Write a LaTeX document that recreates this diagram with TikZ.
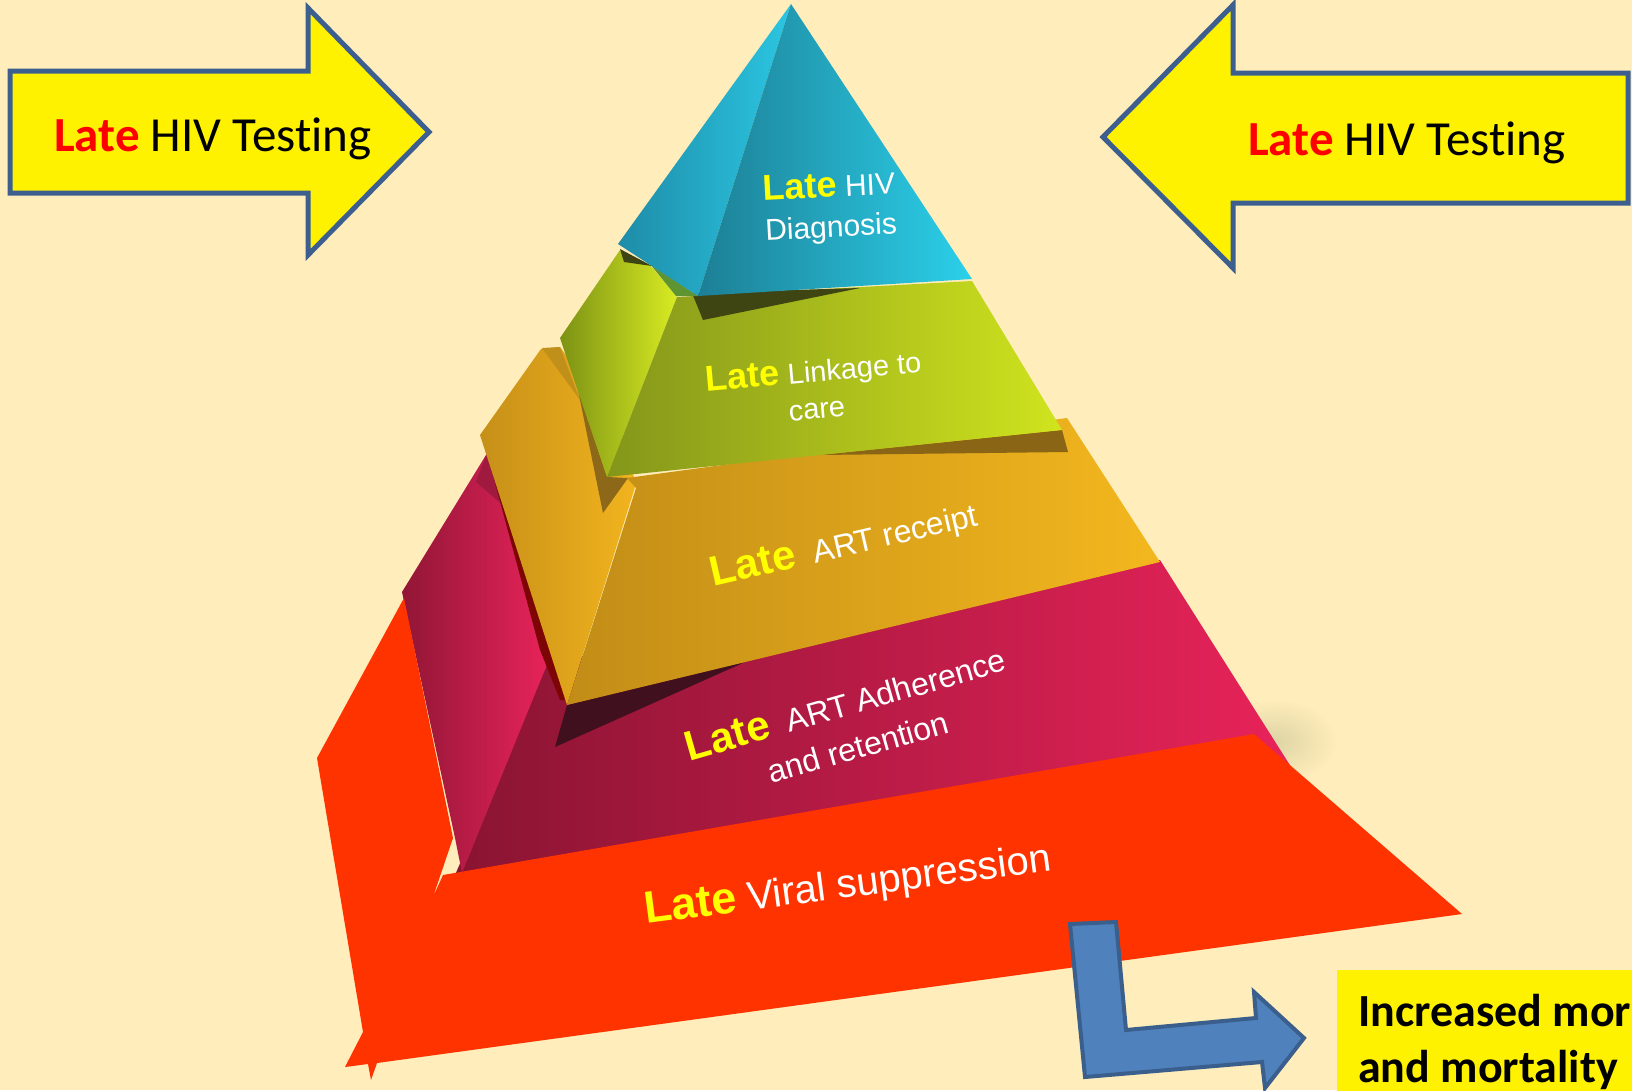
\documentclass[tikz,border=0pt]{standalone}
\usepackage{fontspec}
\newfontfamily\calibfont[Ligatures=NoCommon]{Carlito}
\newfontfamily\arialfont{Liberation Sans}
\definecolor{bg}{RGB}{255,237,187}
\definecolor{arrowedge}{RGB}{61,95,143}
\definecolor{lateyellow}{RGB}{255,255,0}
\definecolor{latered}{RGB}{255,0,0}
\definecolor{vivid}{RGB}{255,51,0}
\definecolor{bendfill}{RGB}{79,129,189}
\definecolor{bendedge}{RGB}{58,95,140}
\definecolor{groundshadow}{RGB}{222,212,164}
% tier 4 (magenta)
\definecolor{magA}{RGB}{138,20,50}
\definecolor{magB}{RGB}{232,35,90}
\definecolor{magC}{RGB}{145,22,54}
\definecolor{magD}{RGB}{160,26,64}
\definecolor{magShade}{RGB}{125,5,5}
% tier 3 (amber)
\definecolor{ambDark}{RGB}{64,16,30}
\definecolor{ambA}{RGB}{198,143,24}
\definecolor{ambB}{RGB}{242,180,30}
\definecolor{ambC}{RGB}{192,144,26}
\definecolor{ambShade}{RGB}{140,104,24}
\definecolor{ambD}{RGB}{194,141,23}
\definecolor{ambE}{RGB}{243,183,30}
% tier 2 (lime)
\definecolor{limeShadow}{RGB}{138,101,21}
\definecolor{limeA}{RGB}{124,146,20}
\definecolor{limeB}{RGB}{216,236,34}
\definecolor{limeC}{RGB}{132,150,26}
\definecolor{limeD}{RGB}{208,228,30}
\definecolor{limeDark}{RGB}{62,69,18}
\definecolor{limeMid}{RGB}{95,148,50}
% tier 1 (teal)
\definecolor{tealA}{RGB}{30,140,168}
\definecolor{tealB}{RGB}{43,198,226}
\definecolor{tealC}{RGB}{28,127,149}
\definecolor{tealD}{RGB}{44,208,234}
\newcommand\lateword[1]{{\bfseries\fontsize{#1}{#1}\selectfont\color{lateyellow}Late}}
\begin{document}
\begin{tikzpicture}[x=1pt,y=-1pt,
  callout/.style={fill=yellow, draw=arrowedge, line width=5pt, line join=miter},
  tierlabel/.style={text=white, align=center, inner sep=0pt},
  arrowlabel/.style={font=\calibfont\fontsize{49}{54}\selectfont, inner sep=0pt, anchor=base west},
  outcomelabel/.style={font=\calibfont\bfseries\fontsize{46}{56}\selectfont, inner sep=0pt, anchor=base west},
]
\useasboundingbox (0,0) rectangle (1632,1090);
\clip (0,0) rectangle (1632,1090);
\fill[bg] (0,0) rectangle (1632,1090);

% two block arrows pointing at the pyramid
\draw[callout] (10,71) -- (308,71) -- (308,8) -- (429,132) -- (308,255) -- (308,193) -- (10,193) -- cycle;
\draw[callout] (1628,73) -- (1233,73) -- (1233,5) -- (1103,137) -- (1233,268) -- (1233,203) -- (1628,203) -- cycle;
\node[arrowlabel] (testL) at (54,151) {{\bfseries\color{latered}Late} HIV Testing};
\node[arrowlabel] (testR) at (1248,155) {{\bfseries\color{latered}Late} HIV Testing};

% soft ground shadow at the right corner
\shade[inner color=groundshadow, outer color=bg] (1275,741) ellipse [x radius=62, y radius=42];

% tier 4: adherence and retention
\shade[left color=magA, right color=magB]
  (548,662) -- (1160,560) -- (1293,770) -- (455,875) -- cycle;
\shade[left color=magC, right color=magB]
  (486,455) -- (402,592) -- (455,838) -- (462,873) -- (548,662) -- (530,560) -- cycle;
\fill[magD] (476,482) -- (487,453) -- (505,507) -- cycle;
\fill[magShade] (487,453) -- (540,650) -- (560,700) -- (580,700) -- (500,440) -- cycle;

% tier 5: viral suppression
\fill[vivid] (404,598) -- (453,838) -- (433,897) -- (443,875) -- (1254,734) -- (1462,914)
  -- (377,1063) -- (371,1080) -- (368,1064) -- (345,1067) -- (363,1032) -- (317,758) -- cycle;

% tier 3: ART receipt
\fill[ambDark] (567,705) -- (555,747) -- (745,662) -- cycle;
\shade[left color=ambA, right color=ambB]
  (541,349) -- (480,435) -- (567,705) -- (636,484) -- (620,430) -- (560,347) -- cycle;
\fill[ambC] (542,348) -- (560,347) -- (580,400) -- cycle;
\fill[ambShade] (578,390) -- (603,513) -- (628,478) -- (607,477) -- cycle;
\shade[left color=ambD, right color=ambE]
  (567,705) -- (636,488) -- (627,478) -- (1067,418) -- (1160,562) -- cycle;

% tier 2: linkage to care
\fill[limeShadow] (820,455) -- (1062,430) -- (1068,452) -- cycle;
\shade[left color=limeA, right color=limeB]
  (620,250) -- (560,338) -- (607,477) -- (677,297) -- (650,265) -- cycle;
\shade[left color=limeC, right color=limeD]
  (677,297) -- (972,281) -- (1062,430) -- (607,477) -- cycle;
\fill[limeDark] (692,293) -- (703,320) -- (860,288) -- cycle;
\fill[limeDark] (620,249) -- (652,266) -- (624,262) -- cycle;
\fill[limeMid] (650,264) -- (698,296) -- (676,296) -- cycle;

% tier 1: diagnosis
\shade[left color=tealA, right color=tealB]
  (791,4) -- (618,244) -- (698,296) -- cycle;
\shade[left color=tealC, right color=tealD]
  (791,4) -- (698,296) -- (972,279) -- cycle;

% tier labels
\node[tierlabel, font=\arialfont\fontsize{30}{40}\selectfont, rotate=3] (diag) at (830,208)
  {\lateword{36} HIV\\Diagnosis};
\node[tierlabel, font=\arialfont\fontsize{29}{37}\selectfont, rotate=5] (link) at (815,388)
  {\lateword{36} Linkage to\\care};
\node[tierlabel, font=\arialfont\fontsize{32}{40}\selectfont, rotate=13] (receipt) at (844,545)
  {\lateword{42}\ \ ART receipt};
\node[tierlabel, font=\arialfont\fontsize{32}{40}\selectfont, rotate=16] (adhere) at (845,702)
  {\lateword{42}\ \ ART Adherence};
\node[tierlabel, font=\arialfont\fontsize{32}{40}\selectfont, rotate=16] (retain) at (858,747)
  {and retention};
\node[tierlabel, font=\arialfont\fontsize{40}{48}\selectfont, rotate=7.5] (viral) at (848,886)
  {\lateword{45} Viral suppression};

% outcome: bent arrow and box
\filldraw[fill=bendfill, draw=bendedge, line width=4pt, line join=miter]
  (1070,924) -- (1116,922) -- (1126,1030) -- (1256,1018) -- (1254,992) -- (1304,1038)
  -- (1265,1088) -- (1262,1062) -- (1085,1077) -- cycle;
\fill[yellow] (1337,970) rectangle (1640,1100);
\node[outcomelabel] (outcomeA) at (1358,1026) {Increased mor};
\node[outcomelabel] (outcomeB) at (1358,1082) {and mortality};
\end{tikzpicture}
\end{document}
